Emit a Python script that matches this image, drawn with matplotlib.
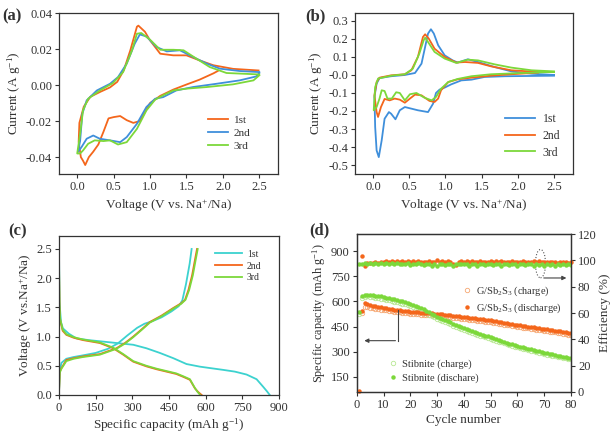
import numpy as np
import matplotlib
matplotlib.use("Agg")
import matplotlib.pyplot as plt
from matplotlib.patches import Ellipse

plt.rcParams['font.family'] = ['Liberation Serif', 'DejaVu Serif']
plt.rcParams['mathtext.fontset'] = 'custom'
plt.rcParams['mathtext.rm'] = 'Liberation Serif'
plt.rcParams['mathtext.it'] = 'Liberation Serif:italic'
plt.rcParams['axes.edgecolor'] = '#333333'
plt.rcParams['text.color'] = '#333333'
plt.rcParams['axes.labelcolor'] = '#333333'
plt.rcParams['xtick.color'] = '#333333'
plt.rcParams['ytick.color'] = '#333333'

orange = '#F4661B'
blue = '#3F8FDB'
green = '#7CD83A'
cyan = '#3CD2CF'
orange_lt = '#F6A772'
green_lt = '#B8E893'

# ---- (a) CV of G/Sb2S3 : cathodic branch then anodic branch ----
a1_v = [1.93, 1.87, 1.68, 1.50, 1.32, 1.14, 1.00, 0.93, 0.86, 0.77, 0.68, 0.59, 0.50, 0.43, 0.36, 0.29, 0.22, 0.16, 0.11, 0.08, 0.05, 0.02,
        0.02, 0.03, 0.09, 0.18, 0.32, 0.45, 0.55, 0.64, 0.73, 0.82, 0.84, 0.93, 1.00, 1.14, 1.32, 1.50, 1.68, 1.87, 2.14, 2.49]
a1_i = [0.0078, 0.0065, 0.0030, 0.0003, -0.0025, -0.0060, -0.0100, -0.0150, -0.0200, -0.0210, -0.0195, -0.0172, -0.0178, -0.0185, -0.0260, -0.0330, -0.0370, -0.0400, -0.0444, -0.0420, -0.0400, -0.0315,
        -0.0315, -0.0210, -0.0120, -0.0065, -0.0037, -0.0013, 0.0018, 0.0083, 0.0194, 0.0324, 0.0330, 0.0296, 0.0248, 0.0174, 0.0165, 0.0165, 0.0137, 0.0110, 0.0090, 0.0081]
a2_v = [2.50, 2.46, 2.23, 1.91, 1.59, 1.36, 1.18, 1.07, 0.95, 0.82, 0.68, 0.59, 0.45, 0.31, 0.22, 0.13, 0.06, 0.01,
        0.04, 0.07, 0.13, 0.27, 0.45, 0.56, 0.68, 0.79, 0.86, 0.95, 1.09, 1.23, 1.41, 1.59, 1.78, 1.96, 2.23, 2.50]
a2_i = [0.0067, 0.0048, 0.0026, 0.0007, -0.0011, -0.0030, -0.0067, -0.0076, -0.0122, -0.0215, -0.0289, -0.0317, -0.0307, -0.0298, -0.0280, -0.0298, -0.0344, -0.0372,
        -0.0310, -0.0160, -0.0085, -0.0030, 0.0007, 0.0044, 0.0119, 0.0230, 0.0281, 0.0270, 0.0211, 0.0187, 0.0193, 0.0156, 0.0119, 0.0091, 0.0078, 0.0072]
a3_v = [2.50, 2.42, 2.14, 1.78, 1.50, 1.32, 1.18, 1.07, 0.95, 0.82, 0.68, 0.56, 0.45, 0.36, 0.24, 0.15, 0.08, 0.04, 0.00,
        0.04, 0.08, 0.15, 0.31, 0.49, 0.63, 0.75, 0.82, 0.88, 1.00, 1.14, 1.32, 1.46, 1.64, 1.82, 2.05, 2.50]
a3_i = [0.0054, 0.0026, 0.0004, -0.0011, -0.0020, -0.0030, -0.0057, -0.0081, -0.0141, -0.0243, -0.0317, -0.0330, -0.0307, -0.0311, -0.0307, -0.0326, -0.0363, -0.0380, -0.0380,
        -0.0270, -0.0140, -0.0076, -0.0030, 0.0011, 0.0072, 0.0190, 0.0285, 0.0289, 0.0252, 0.0196, 0.0196, 0.0193, 0.0146, 0.0100, 0.0067, 0.0059]

# ---- (b) CV of stibnite ----
b1_v = [2.50, 1.82, 1.54, 1.36, 1.22, 1.08, 0.99, 0.92, 0.87, 0.83, 0.76, 0.62, 0.44, 0.37, 0.31, 0.25, 0.22, 0.16, 0.12, 0.08, 0.05, 0.03, 0.02,
        0.05, 0.09, 0.25, 0.44, 0.58, 0.67, 0.72, 0.76, 0.80, 0.84, 0.90, 0.99, 1.10, 1.17, 1.31, 1.45, 1.68, 1.91, 2.19, 2.50]
b1_i = [-0.004, -0.007, -0.011, -0.026, -0.030, -0.052, -0.070, -0.081, -0.100, -0.159, -0.206, -0.196, -0.178, -0.196, -0.246, -0.215, -0.206, -0.243, -0.363, -0.456, -0.419, -0.289, -0.122,
        -0.048, -0.017, -0.007, 0.000, 0.011, 0.063, 0.156, 0.230, 0.254, 0.230, 0.165, 0.109, 0.081, 0.069, 0.087, 0.072, 0.044, 0.020, 0.007, 0.000]
b2_v = [2.28, 1.91, 1.63, 1.36, 1.17, 1.04, 0.94, 0.90, 0.85, 0.78, 0.67, 0.58, 0.51, 0.44, 0.37, 0.30, 0.23, 0.16, 0.11, 0.07, 0.05, 0.02,
        0.05, 0.09, 0.25, 0.44, 0.53, 0.62, 0.69, 0.72, 0.77, 0.85, 0.99, 1.15, 1.27, 1.45, 1.63, 1.91, 2.28]
b2_i = [0.013, 0.004, -0.004, -0.015, -0.024, -0.039, -0.085, -0.131, -0.150, -0.144, -0.113, -0.109, -0.131, -0.154, -0.137, -0.131, -0.141, -0.133, -0.178, -0.233, -0.206, -0.113,
        -0.039, -0.015, -0.002, 0.004, 0.026, 0.100, 0.211, 0.226, 0.202, 0.146, 0.100, 0.069, 0.072, 0.067, 0.048, 0.026, 0.017]
b3_v = [2.50, 2.05, 1.63, 1.36, 1.17, 1.04, 0.94, 0.87, 0.81, 0.71, 0.60, 0.51, 0.44, 0.37, 0.32, 0.26, 0.20, 0.16, 0.12, 0.09, 0.05, 0.01,
        0.03, 0.07, 0.25, 0.44, 0.55, 0.64, 0.70, 0.72, 0.76, 0.85, 0.99, 1.15, 1.31, 1.45, 1.68, 1.91, 2.19, 2.50]
b3_i = [0.017, 0.011, 0.004, -0.007, -0.022, -0.039, -0.076, -0.122, -0.141, -0.126, -0.100, -0.107, -0.141, -0.100, -0.096, -0.131, -0.131, -0.089, -0.085, -0.131, -0.178, -0.196,
        -0.067, -0.020, -0.004, 0.004, 0.035, 0.119, 0.193, 0.207, 0.183, 0.128, 0.091, 0.067, 0.085, 0.081, 0.059, 0.041, 0.026, 0.020]

# ---- (c) charge/discharge profiles ----
c1_dis_q = [0, 2, 8, 16, 40, 71, 120, 167, 235, 304, 358, 413, 468, 522, 577, 620, 672, 720, 768, 809, 836, 852, 863]
c1_dis_v = [2.46, 1.60, 1.25, 1.14, 1.05, 0.97, 0.94, 0.92, 0.89, 0.86, 0.80, 0.72, 0.63, 0.53, 0.485, 0.46, 0.43, 0.40, 0.35, 0.27, 0.14, 0.06, 0.0]
c1_chg_q = [0, 3, 10, 30, 60, 100, 150, 200, 240, 280, 320, 350, 380, 420, 460, 490, 505, 520, 535, 543]
c1_chg_v = [0.05, 0.40, 0.55, 0.62, 0.65, 0.68, 0.72, 0.79, 0.88, 1.02, 1.15, 1.22, 1.26, 1.33, 1.43, 1.52, 1.62, 1.90, 2.25, 2.50]
c2_dis_q = [0, 2, 5, 15, 30, 60, 98, 167, 222, 263, 304, 358, 400, 440, 480, 509, 536, 557, 570, 584]
c2_dis_v = [2.20, 1.50, 1.28, 1.10, 1.03, 0.98, 0.94, 0.89, 0.80, 0.69, 0.57, 0.49, 0.44, 0.40, 0.36, 0.31, 0.26, 0.11, 0.05, 0.0]
c2_chg_q = [0, 3, 10, 30, 60, 98, 167, 235, 270, 304, 340, 372, 420, 468, 500, 516, 530, 545, 556, 565]
c2_chg_v = [0.05, 0.40, 0.46, 0.60, 0.63, 0.66, 0.70, 0.80, 0.89, 1.00, 1.13, 1.25, 1.36, 1.49, 1.57, 1.63, 1.80, 2.05, 2.30, 2.50]
c3_dis_q = [0, 2, 5, 15, 30, 60, 98, 167, 222, 263, 304, 358, 400, 440, 480, 509, 536, 555, 566, 578]
c3_dis_v = [2.30, 1.55, 1.30, 1.12, 1.04, 0.99, 0.95, 0.90, 0.81, 0.70, 0.58, 0.50, 0.45, 0.41, 0.37, 0.32, 0.27, 0.13, 0.06, 0.0]
c3_chg_q = [0, 3, 10, 30, 60, 98, 167, 235, 270, 304, 340, 372, 420, 468, 500, 518, 533, 548, 559, 568]
c3_chg_v = [0.05, 0.38, 0.45, 0.58, 0.62, 0.65, 0.69, 0.79, 0.88, 0.99, 1.12, 1.24, 1.35, 1.48, 1.56, 1.63, 1.80, 2.05, 2.30, 2.50]

# ---- (d) cycling ----
cycle = np.arange(1, 81)
g_dis = [np.nan, 542, 588, 584, 578, 575, 572, 569, 566, 563, 560, 557, 554, 551, 548, 546, 544, 542, 540, 538,
         537, 535, 534, 533, 532, 531, 530, 529, 528, 527, 525, 523, 521, 519, 517, 515, 513, 511, 509, 507,
         505, 503, 501, 499, 497, 495, 493, 491, 489, 487, 484, 481, 479, 476, 473, 470, 468, 465, 462, 459,
         457, 455, 452, 450, 447, 445, 443, 440, 438, 435, 433, 431, 428, 426, 423, 421, 418, 416, 413, 410]
g_chg = [np.nan, 530, 566, 564, 561, 558, 556, 553, 551, 548, 546, 543, 541, 538, 536, 534, 532, 530, 529, 527,
         526, 524, 523, 522, 521, 520, 519, 518, 517, 516, 514, 512, 510, 508, 506, 504, 502, 500, 498, 496,
         494, 492, 490, 488, 486, 484, 482, 480, 478, 476, 473, 470, 468, 465, 462, 459, 457, 454, 451, 448,
         446, 444, 441, 439, 436, 434, 432, 429, 427, 424, 422, 420, 417, 415, 412, 410, 407, 405, 402, 399]
s_dis = [538, 632, 640, 641, 640, 637, 635, 633, 630, 627, 623, 619, 615, 612, 608, 604, 600, 596, 591, 586,
         580, 574, 567, 560, 552, 544, 535, 527, 519, 510, 503, 496, 489, 482, 475, 468, 461, 454, 447, 440,
         434, 428, 423, 417, 411, 406, 401, 396, 391, 386, 381, 376, 371, 366, 359, 354, 349, 344, 339, 334,
         330, 326, 322, 318, 314, 310, 306, 302, 298, 294, 291, 287, 284, 280, 277, 274, 271, 268, 265, 262]
s_chg = [525, 620, 628, 630, 628, 625, 622, 620, 617, 614, 610, 606, 602, 598, 594, 590, 586, 582, 577, 572,
         566, 560, 553, 546, 538, 530, 522, 514, 506, 498, 491, 484, 477, 470, 463, 456, 449, 442, 436, 429,
         423, 417, 412, 406, 401, 396, 391, 386, 381, 376, 371, 366, 361, 356, 350, 345, 340, 335, 330, 326,
         322, 318, 314, 310, 306, 302, 298, 294, 290, 286, 283, 280, 276, 273, 270, 267, 264, 261, 258, 255]
g_eff = [0.8, 103.0, 95.5, 97.8, 98.3, 98.0, 98.6, 98.2, 99.0, 98.4, 99.4, 98.6, 99.2, 98.5, 99.6, 98.8, 99.3, 98.6, 99.7, 98.7,
         99.2, 98.5, 99.5, 98.8, 99.1, 98.4, 99.3, 98.7, 99.0, 100.3, 98.6, 99.2, 98.5, 99.4, 98.7, 97.0, 96.2, 98.8, 99.3, 98.5,
         99.2, 98.6, 99.5, 99.0, 98.4, 99.3, 98.7, 99.1, 98.5, 99.4, 98.8, 99.2, 98.6, 99.3, 98.7, 99.0, 98.4, 99.3, 98.8, 99.1,
         98.5, 99.4, 98.7, 99.0, 98.5, 99.2, 98.6, 99.5, 98.9, 99.1, 98.4, 99.0, 98.6, 98.9, 98.3, 98.8, 98.5, 98.7, 98.2, 98.5]
s_eff = [97.6, 97.4, 97.8, 97.5, 97.9, 97.6, 97.8, 97.5, 97.9, 97.6, 97.8, 97.3, 97.7, 97.5, 97.8, 97.4, 97.6, 97.3, 97.7, 96.5,
         97.6, 97.2, 97.7, 97.4, 96.8, 97.6, 97.3, 95.8, 97.5, 95.6, 97.4, 97.6, 96.3, 97.5, 97.2, 95.5, 97.4, 97.6, 96.9, 97.5,
         97.3, 96.0, 97.6, 97.2, 95.8, 97.4, 97.5, 96.2, 97.3, 97.6, 96.5, 97.4, 97.2, 95.9, 97.5, 97.3, 96.6, 97.4, 97.1, 96.0,
         97.5, 97.2, 96.4, 97.4, 97.0, 95.8, 97.3, 96.6, 97.2, 95.8, 97.4, 96.5, 97.1, 96.0, 97.3, 96.6, 97.0, 96.1, 97.2, 96.4]

fig = plt.figure(figsize=(6.14, 4.34), dpi=100)

def style(ax):
    ax.tick_params(direction='out', length=3, width=0.8, labelsize=9, pad=2)
    for s in ax.spines.values():
        s.set_linewidth(0.9)

lw = 1.3

# (a)
ax = fig.add_axes([0.0961, 0.599, 0.357, 0.371])
ax.plot(a1_v, a1_i, color=orange, lw=lw, label='1st')
ax.plot(a2_v, a2_i, color=blue, lw=lw, label='2nd')
ax.plot(a3_v, a3_i, color=green, lw=lw, label='3rd')
ax.set_xlim(-0.25, 2.76)
ax.set_ylim(-0.0494, 0.04)
ax.set_xticks([0, 0.5, 1.0, 1.5, 2.0, 2.5])
ax.set_yticks([-0.04, -0.02, 0, 0.02, 0.04])
ax.xaxis.set_major_formatter(plt.FormatStrFormatter('%.1f'))
ax.yaxis.set_major_formatter(plt.FormatStrFormatter('%.2f'))
ax.set_xlabel('Voltage (V vs. Na$^{+}$/Na)', fontsize=9.5, labelpad=3)
ax.set_ylabel('Current (A g$^{-1}$)', fontsize=9.5, labelpad=2)
style(ax)
ax.legend(loc='lower right', bbox_to_anchor=(0.92, 0.08), frameon=False, fontsize=8,
          handlelength=1.8, handletextpad=0.5, labelspacing=0.3)
fig.text(0.003, 0.962, '(a)', fontsize=12, fontweight='bold', va='center')

# (b)
ax = fig.add_axes([0.578, 0.599, 0.355, 0.371])
ax.plot(b1_v, b1_i, color=blue, lw=lw, label='1st')
ax.plot(b2_v, b2_i, color=orange, lw=lw, label='2nd')
ax.plot(b3_v, b3_i, color=green, lw=lw, label='3rd')
ax.set_xlim(-0.25, 2.76)
ax.set_ylim(-0.55, 0.344)
ax.set_xticks([0, 0.5, 1.0, 1.5, 2.0, 2.5])
ax.set_yticks(np.arange(-0.5, 0.31, 0.1))
ax.xaxis.set_major_formatter(plt.FormatStrFormatter('%.1f'))
ax.yaxis.set_major_formatter(plt.FormatStrFormatter('%.1f'))
ax.set_xlabel('Voltage (V vs. Na$^{+}$/Na)', fontsize=9.5, labelpad=3)
ax.set_ylabel('Current (A g$^{-1}$)', fontsize=9.5, labelpad=2)
style(ax)
ax.legend(loc='lower right', bbox_to_anchor=(0.99, 0.03), frameon=False, fontsize=8.5,
          handlelength=2.6, handletextpad=0.6, labelspacing=0.4)
fig.text(0.497, 0.962, '(b)', fontsize=12, fontweight='bold', va='center')

# (c)
ax = fig.add_axes([0.0961, 0.0899, 0.358, 0.366])
ax.plot(c1_dis_q, c1_dis_v, color=cyan, lw=lw, label='1st')
ax.plot(c1_chg_q, c1_chg_v, color=cyan, lw=lw)
ax.plot(c2_dis_q, c2_dis_v, color=orange, lw=lw, label='2nd')
ax.plot(c2_chg_q, c2_chg_v, color=orange, lw=lw)
ax.plot(c3_dis_q, c3_dis_v, color=green, lw=lw, label='3rd')
ax.plot(c3_chg_q, c3_chg_v, color=green, lw=lw)
ax.set_xlim(0, 900)
ax.set_ylim(0, 2.72)
ax.set_xticks(np.arange(0, 901, 150))
ax.set_yticks(np.arange(0, 2.51, 0.5))
ax.yaxis.set_major_formatter(plt.FormatStrFormatter('%.1f'))
ax.set_xlabel('Specific capacity (mAh g$^{-1}$)', fontsize=9.5, labelpad=2)
ax.set_ylabel('Voltage (V vs.Na$^{+}$/Na)', fontsize=9.5, labelpad=2)
style(ax)
ax.legend(loc='upper right', bbox_to_anchor=(0.96, 0.97), frameon=False, fontsize=7,
          handlelength=2.8, handletextpad=0.5, labelspacing=0.3)
fig.text(0.013, 0.467, '(c)', fontsize=12, fontweight='bold', va='center')

# (d)
ax = fig.add_axes([0.581, 0.0968, 0.349, 0.364])
ax2 = ax.twinx()
l1, = ax.plot(cycle, g_chg, 'o', ms=3.2, mfc='none', mec=orange_lt, mew=0.6, label='G/Sb$_2$S$_3$ (charge)')
l3, = ax.plot(cycle, s_chg, 'o', ms=3.2, mfc='none', mec=green_lt, mew=0.6, label='Stibnite (charge)')
l2, = ax.plot(cycle, g_dis, 'o', ms=3.2, color=orange, mew=0, label='G/Sb$_2$S$_3$ (discharge)')
l4, = ax.plot(cycle, s_dis, 'o', ms=3.2, color=green, mew=0, label='Stibnite (dischare)')
ax2.plot(cycle, g_eff, 'o', ms=3.2, color=orange, mew=0, clip_on=False)
ax2.plot(cycle, s_eff, 'o', ms=3.2, color=green, mew=0)
ax.set_xlim(0, 80)
ax.set_ylim(60, 1002)
ax2.set_ylim(0, 120)
ax.set_xticks(np.arange(0, 81, 10))
ax.set_yticks(np.arange(150, 901, 150))
ax2.set_yticks(np.arange(0, 121, 20))
ax.set_xlabel('Cycle number', fontsize=9.5, labelpad=2)
ax.set_ylabel('Specific capacity (mAh g$^{-1}$)', fontsize=8.8, labelpad=2)
ax2.set_ylabel('Efficiency (%)', fontsize=9.5, labelpad=2)
style(ax)
style(ax2)
# arrows pointing to the axes
ax.plot([15.5, 15.5], [550, 366], color='#444444', lw=0.8)
ax.annotate('', xy=(1.8, 366), xytext=(15.5, 366),
            arrowprops=dict(arrowstyle='-|>', color='#444444', lw=0.8, mutation_scale=6))
ax2.add_patch(Ellipse((68.6, 97.5), 3.8, 21.5, fill=False, ls=':', lw=0.8, ec='#555555'))
ax2.annotate('', xy=(79.3, 86.6), xytext=(68.8, 86.6),
             arrowprops=dict(arrowstyle='-|>', color='#444444', lw=0.8, mutation_scale=6))
leg1 = ax.legend([l1, l2], [l1.get_label(), l2.get_label()], loc='center right', bbox_to_anchor=(1.0, 0.585),
                 frameon=False, fontsize=7.5, handlelength=1.0, handletextpad=0.4, labelspacing=0.35)
ax.add_artist(leg1)
ax.legend([l3, l4], [l3.get_label(), l4.get_label()], loc='lower left', bbox_to_anchor=(0.1, 0.0),
          frameon=False, fontsize=7.5, handlelength=1.0, handletextpad=0.4, labelspacing=0.35)
fig.text(0.503, 0.47, '(d)', fontsize=12, fontweight='bold', va='center')

fig.savefig('out.png', dpi=100)
